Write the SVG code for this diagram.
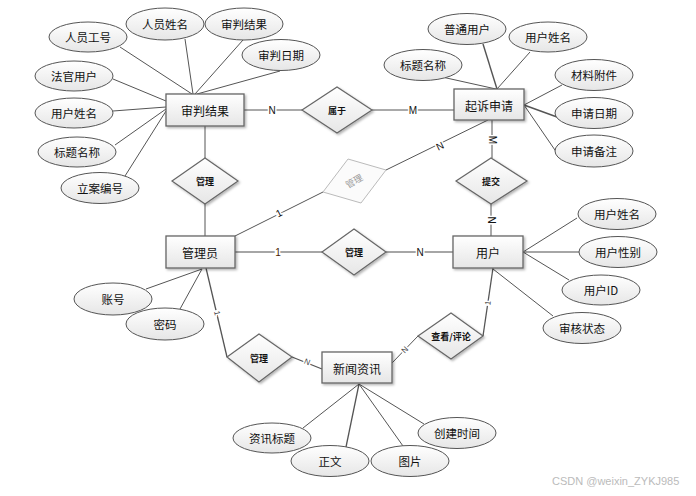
<svg xmlns="http://www.w3.org/2000/svg" width="696" height="496" viewBox="0 0 696 496">
<defs>
<linearGradient id="g" x1="0" y1="0" x2="0" y2="1">
<stop offset="0" stop-color="#ffffff"/>
<stop offset="1" stop-color="#e6e6e6"/>
</linearGradient>
<filter id="sh" x="-20%" y="-20%" width="150%" height="150%">
<feDropShadow dx="1.5" dy="1.5" stdDeviation="1" flood-color="#000" flood-opacity="0.3"/>
</filter>
<style>
text{font-family:"Noto Sans CJK SC","Liberation Sans",sans-serif;text-anchor:middle;dominant-baseline:central;fill:#111}
.ent rect{fill:url(#g);stroke:#666;stroke-width:1.3;filter:url(#sh)}
.ent text{font-size:12px}
.att ellipse{fill:url(#g);stroke:#555;stroke-width:1}
.att text{font-size:11.5px}
.rel polygon{fill:url(#g);stroke:#666;stroke-width:1.2;filter:url(#sh)}
.rel text{font-size:9px;font-weight:bold}
.fade polygon{fill:#fbfbfb;stroke:#bbb;stroke-width:1}
.fade text{font-size:9px;fill:#999}
#connectors line{stroke:#555;stroke-width:1}
#connectors .lt{stroke:#888;stroke-width:1.3}
.lbl{font-size:10px;font-family:"Liberation Sans",sans-serif;stroke:#fff;stroke-width:3;paint-order:stroke;fill:#111}
.sm{font-size:8px;fill:#444}
.wm{font-family:"Liberation Sans",sans-serif;font-size:11px;fill:#bbb;text-anchor:start}
</style>
</defs>
<rect width="696" height="496" fill="#fff"/>
<g id="connectors">
<line x1="120" y1="47" x2="192" y2="94"/>
<line x1="185" y1="39" x2="193" y2="94"/>
<line x1="243" y1="40" x2="195" y2="94"/>
<line x1="280" y1="71" x2="197" y2="94"/>
<line x1="113" y1="79" x2="166" y2="101"/>
<line x1="113" y1="111" x2="166" y2="107"/>
<line x1="115" y1="145" x2="166" y2="109"/>
<line x1="125" y1="176" x2="166" y2="111"/>
<line x1="483" y1="44" x2="497" y2="89" style="stroke-width:1.4"/>
<line x1="530" y1="52" x2="497" y2="89"/>
<line x1="442" y1="77" x2="496" y2="89"/>
<line x1="562" y1="85" x2="524" y2="105"/>
<line x1="557" y1="117" x2="524" y2="105" style="stroke-width:1.6"/>
<line x1="557" y1="153" x2="524" y2="105"/>
<line x1="577" y1="218" x2="523" y2="252"/>
<line x1="579" y1="252" x2="523" y2="252" class="lt"/>
<line x1="569" y1="280" x2="523" y2="252"/>
<line x1="553" y1="316" x2="493" y2="269"/>
<line x1="146" y1="289" x2="202" y2="269"/>
<line x1="180" y1="309" x2="202" y2="269"/>
<line x1="303" y1="428" x2="359" y2="384"/>
<line x1="346" y1="447" x2="359" y2="384" style="stroke-width:1.3"/>
<line x1="403" y1="446" x2="359" y2="384"/>
<line x1="424" y1="424" x2="359" y2="384"/>
<line x1="244" y1="110" x2="302" y2="110"/>
<line x1="372" y1="110" x2="454" y2="110"/>
<line x1="205" y1="126" x2="205" y2="158"/>
<line x1="205" y1="204" x2="205" y2="236"/>
<line x1="492" y1="120" x2="492" y2="158"/>
<line x1="491" y1="204" x2="491" y2="236"/>
<line x1="488" y1="120" x2="386" y2="170"/>
<line x1="323" y1="192" x2="235" y2="236"/>
<line x1="235" y1="252" x2="322" y2="252" class="lt"/>
<line x1="386" y1="252" x2="453" y2="252" class="lt"/>
<line x1="206" y1="268" x2="227" y2="357" style="stroke-width:1.3"/>
<line x1="292" y1="357" x2="322" y2="369" style="stroke-width:1.3"/>
<line x1="493" y1="268" x2="483" y2="336" style="stroke-width:1.3"/>
<line x1="418" y1="336" x2="392" y2="363"/>
<text class="lbl" x="272" y="110">N</text>
<text class="lbl" x="413" y="110">M</text>
<text class="lbl" x="492" y="140" transform="rotate(90 492 140)">M</text>
<text class="lbl" x="491" y="220" transform="rotate(90 491 220)">N</text>
<text class="lbl" x="440" y="146" transform="rotate(-26 440 146)">N</text>
<text class="lbl" x="279" y="213" transform="rotate(-27 279 213)">1</text>
<text class="lbl" x="278" y="252" style="fill:#4a1a00">1</text>
<text class="lbl" x="420" y="252">N</text>
<text class="lbl sm" x="217" y="313" transform="rotate(77 217 313)">1</text>
<text class="lbl sm" x="307" y="362" transform="rotate(22 307 362)">N</text>
<text class="lbl sm" x="488" y="303" transform="rotate(-82 488 303)">1</text>
<text class="lbl sm" x="405" y="350" transform="rotate(-46 405 350)">N</text>
</g>
<g id="rel-shuyu" class="rel"><polygon points="302,110 337,87 372,110 337,133"/><text x="337" y="110">属于</text></g>
<g id="rel-guanli1" class="rel"><polygon points="172,181 205,158 238,181 205,204"/><text x="205" y="181">管理</text></g>
<g id="rel-guanli-fade" class="fade"><polygon points="323,192 348,159 386,170 361,203"/><text x="354" y="181" transform="rotate(-30 354 181)">管理</text></g>
<g id="rel-tijiao" class="rel"><polygon points="456,181 491,158 527,181 491,204"/><text x="491" y="181">提交</text></g>
<g id="rel-guanli2" class="rel"><polygon points="322,252 354,229 386,252 354,275"/><text x="354" y="252">管理</text></g>
<g id="rel-guanli3" class="rel"><polygon points="227,357 259,334 292,357 259,382"/><text x="259" y="358">管理</text></g>
<g id="rel-chakan" class="rel"><polygon points="418,336 451,313 483,336 451,359"/><text x="451" y="336">查看/评论</text></g>
<g id="ent-shenpan" class="ent"><rect x="166" y="94" width="78" height="32"/><text x="205" y="110">审判结果</text></g>
<g id="ent-qisu" class="ent"><rect x="454" y="89" width="70" height="31"/><text x="489" y="105">起诉申请</text></g>
<g id="ent-admin" class="ent"><rect x="166" y="236" width="69" height="32"/><text x="200" y="252">管理员</text></g>
<g id="ent-user" class="ent"><rect x="453" y="236" width="70" height="32"/><text x="488" y="252">用户</text></g>
<g id="ent-news" class="ent"><rect x="322" y="352" width="70" height="31"/><text x="357" y="368">新闻资讯</text></g>
<g id="att-ryh" class="att"><ellipse cx="88" cy="37" rx="39" ry="15"/><text x="88" y="37">人员工号</text></g>
<g id="att-ryxm" class="att"><ellipse cx="165" cy="24" rx="39" ry="16"/><text x="165" y="24">人员姓名</text></g>
<g id="att-spjg" class="att"><ellipse cx="244" cy="24" rx="39" ry="16"/><text x="244" y="24">审判结果</text></g>
<g id="att-sprq" class="att"><ellipse cx="281" cy="55" rx="39" ry="15.5"/><text x="281" y="55">审判日期</text></g>
<g id="att-fgyh" class="att"><ellipse cx="74" cy="76" rx="39" ry="15"/><text x="74" y="76">法官用户</text></g>
<g id="att-yhxm1" class="att"><ellipse cx="74" cy="113" rx="39" ry="15"/><text x="74" y="113">用户姓名</text></g>
<g id="att-btmc1" class="att"><ellipse cx="77" cy="152" rx="39" ry="15"/><text x="77" y="152">标题名称</text></g>
<g id="att-labh" class="att"><ellipse cx="100" cy="188" rx="39" ry="15.5"/><text x="100" y="188">立案编号</text></g>
<g id="att-ptyh" class="att"><ellipse cx="467" cy="29" rx="39" ry="15.5"/><text x="467" y="29">普通用户</text></g>
<g id="att-yhxm2" class="att"><ellipse cx="548" cy="37" rx="39" ry="15"/><text x="548" y="37">用户姓名</text></g>
<g id="att-btmc2" class="att"><ellipse cx="423" cy="65" rx="39" ry="15.5"/><text x="423" y="65">标题名称</text></g>
<g id="att-clfj" class="att"><ellipse cx="594" cy="75" rx="39" ry="15.5"/><text x="594" y="75">材料附件</text></g>
<g id="att-sqrq" class="att"><ellipse cx="594" cy="113" rx="39" ry="15.5"/><text x="594" y="113">申请日期</text></g>
<g id="att-sqbz" class="att"><ellipse cx="594" cy="151" rx="39" ry="16"/><text x="594" y="151">申请备注</text></g>
<g id="att-yhxm3" class="att"><ellipse cx="617" cy="214" rx="39" ry="15.5"/><text x="617" y="214">用户姓名</text></g>
<g id="att-yhxb" class="att"><ellipse cx="618" cy="252" rx="39" ry="15.5"/><text x="618" y="252">用户性别</text></g>
<g id="att-yhid" class="att"><ellipse cx="601" cy="290" rx="39" ry="15"/><text x="601" y="290">用户ID</text></g>
<g id="att-shzt" class="att"><ellipse cx="582" cy="328" rx="39" ry="15.5"/><text x="582" y="328">审核状态</text></g>
<g id="att-zh" class="att"><ellipse cx="113" cy="299" rx="39" ry="16"/><text x="113" y="299">账号</text></g>
<g id="att-mm" class="att"><ellipse cx="165" cy="324" rx="39" ry="16"/><text x="165" y="324">密码</text></g>
<g id="att-zxbt" class="att"><ellipse cx="272" cy="438" rx="39" ry="15"/><text x="272" y="438">资讯标题</text></g>
<g id="att-zw" class="att"><ellipse cx="330" cy="461" rx="39" ry="15.5"/><text x="330" y="461">正文</text></g>
<g id="att-tp" class="att"><ellipse cx="410" cy="461" rx="39" ry="15.5"/><text x="410" y="461">图片</text></g>
<g id="att-cjsj" class="att"><ellipse cx="457" cy="433" rx="39" ry="15.5"/><text x="457" y="433">创建时间</text></g>
<text class="wm" x="552" y="481">CSDN @weixin_ZYKJ985</text>
</svg>
